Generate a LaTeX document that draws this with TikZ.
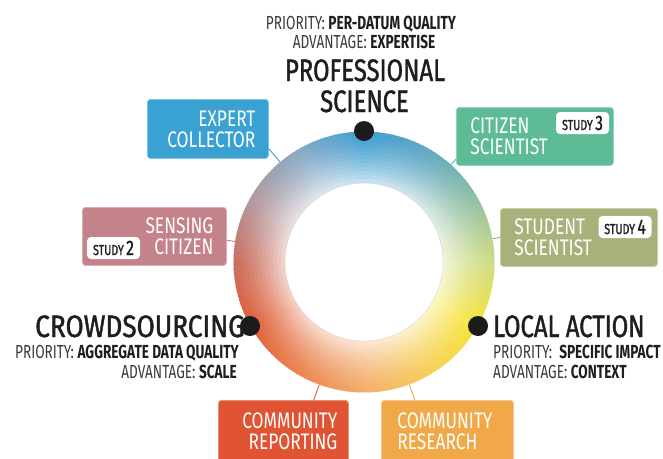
\documentclass[tikz,border=0pt]{standalone}
\usepackage{fontspec}
\setmainfont{Fira Sans}
\newfontfamily\narrowsans[FakeStretch=0.72]{Fira Sans}
\newfontfamily\labelsans[FakeStretch=0.77]{Fira Sans}
\newfontfamily\headsans[FakeStretch=0.77, FakeBold=1.3]{Fira Sans}
\newfontfamily\badgesans[FakeStretch=0.74, FakeBold=1.2]{Fira Sans}

% box fills
\definecolor{expertC}{HTML}{3AA2D2}
\definecolor{citizenC}{HTML}{5DBB96}
\definecolor{sensingC}{HTML}{C4838A}
\definecolor{studentC}{HTML}{A9B07A}
\definecolor{reportC}{HTML}{E05433}
\definecolor{researchC}{HTML}{F0A848}
\definecolor{dotC}{HTML}{1C1C1C}
\definecolor{inkC}{HTML}{1E1E1E}
\definecolor{softC}{HTML}{3A3A3A}

% hue stops around the ring, every 30 degrees (clockwise from the right)
\definecolor{ring0}{HTML}{CFDC86}
\definecolor{ring1}{HTML}{F6E43A}
\definecolor{ring2}{HTML}{F7CF58}
\definecolor{ring3}{HTML}{F2AE6C}
\definecolor{ring4}{HTML}{EA8652}
\definecolor{ring5}{HTML}{E0603A}
\definecolor{ring6}{HTML}{CB6E5C}
\definecolor{ring7}{HTML}{B29AA0}
\definecolor{ring8}{HTML}{88AAC6}
\definecolor{ring9}{HTML}{3E9ED2}
\definecolor{ring10}{HTML}{60A8C4}
\definecolor{ring11}{HTML}{8EBFA4}
\definecolor{ring12}{HTML}{CFDC86}

\begin{document}
\begin{tikzpicture}[x=1pt,y=-1pt,
  every node/.style={font=\narrowsans},
  labelbox/.style={rounded corners=3pt, draw=#1!65!white, fill=#1, line width=0.8pt,
    inner ysep=0pt, text=white, font=\labelsans\fontsize{22.5}{21}\selectfont},
  badge/.style={rounded corners=4pt, fill=white, inner sep=0pt, text=inkC,
    minimum width=53pt, minimum height=22pt, font=\badgesans\fontsize{14.5}{14}\selectfont},
  hub/.style={circle, fill=dotC, minimum size=20pt, inner sep=0pt},
  headline/.style={text=inkC, inner sep=0pt, text depth=0pt, font=\headsans\fontsize{31}{30}\selectfont},
  prio/.style={text=softC, inner sep=0pt, text height=13pt, font=\narrowsans\fontsize{18.9}{19}\selectfont},
  conn/.style={line width=0.9pt, draw=#1},
]
\useasboundingbox (0,0) rectangle (663,458);
\clip (0,0) rectangle (663,458);

% ---------- the colour ring ----------
\node[circle, minimum size=261pt, inner sep=0pt] (ring) at (364,262) {};
\begin{scope}[shift={(ring.center)}]
  \foreach \a in {0,2,...,358}{
    \pgfmathtruncatemacro\ki{floor(\a/30)}
    \pgfmathtruncatemacro\kj{\ki+1}
    \pgfmathsetmacro\kp{(\a-30*\ki)*10/3}
    \colorlet{arccol}{ring\kj!\kp!ring\ki}
    \foreach \ri in {79,83,...,127}{
      \pgfmathsetmacro\ro{min(\ri+4.5,130.5)}
      \pgfmathsetmacro\w{100-72*((130.5-(\ri+2))/51.5)^1.4}
      \fill[arccol!\w!white]
        (\a-1.3:\ri) arc[start angle=\a-1.3, end angle=\a+1.3, radius=\ri]
        -- (\a+1.3:\ro) arc[start angle=\a+1.3, end angle=\a-1.3, radius=\ro] -- cycle;
    }
  }
  \draw[black!15, line width=0.4pt] (0,0) circle[radius=79];
\end{scope}

% ---------- role boxes ----------
\node[labelbox=expertC, anchor=north west, minimum width=121pt, minimum height=59pt,
  inner xsep=13pt, text width=95pt, align=right] (expert) at (147,99) {EXPERT\\COLLECTOR};
\node[labelbox=citizenC, anchor=north west, minimum width=157pt, minimum height=58pt,
  inner xsep=14pt, text width=129pt, align=left] (citizen) at (456,107) {CITIZEN\\SCIENTIST};
\node[labelbox=sensingC, anchor=north west, minimum width=144pt, minimum height=58pt,
  inner xsep=13pt, text width=118pt, align=right] (sensing) at (82,207) {SENSING\\CITIZEN};
\node[labelbox=studentC, anchor=north west, minimum width=157pt, minimum height=58pt,
  inner xsep=14pt, text width=129pt, align=left] (student) at (500,208) {STUDENT\\SCIENTIST};
\node[labelbox=reportC, anchor=north west, minimum width=130pt, minimum height=62pt,
  inner xsep=11pt, text width=108pt, align=right] (report) at (218,400) {COMMUNITY\\REPORTING};
\node[labelbox=researchC, anchor=north west, minimum width=132pt, minimum height=62pt,
  inner xsep=16pt, text width=100pt, align=left] (research) at (381,400) {COMMUNITY\\RESEARCH};

% study badges
\node[badge] (study3) at (582.5,123) {STUDY\,{\fontsize{21}{21}\selectfont 3}};
\node[badge] (study4) at (625,227) {STUDY\,{\fontsize{21}{21}\selectfont 4}};
\node[badge] (study2) at (113.5,248) {STUDY\,{\fontsize{21}{21}\selectfont 2}};

% connectors from boxes to the ring
\draw[conn=expertC] (expert.-18) -- (ring);
\draw[conn=citizenC] (citizen.196) -- (ring);
\draw[conn=sensingC] (sensing.-3) -- (ring);
\draw[conn=studentC] (student.west) -- (ring);
\draw[conn=reportC] (report.46) -- (ring);
\draw[conn=researchC] (research.136) -- (ring);

% ---------- poles of the ring ----------
\node[hub] (topdot) at (364,131) {};
\node[hub] (leftdot) at (250,326) {};
\node[hub] (rightdot) at (478,326) {};

\node[prio, anchor=base] (psprio) at (361,29) {PRIORITY: \textbf{\color{inkC}PER-DATUM QUALITY}};
\node[prio, anchor=base] (psadv) at (364,48) {ADVANTAGE: \textbf{\color{inkC}EXPERTISE}};
\node[headline, anchor=base] (pstitleA) at (365,81) {PROFESSIONAL};
\node[headline, anchor=base] (pstitleB) at (364.5,112) {SCIENCE};

\node[headline, anchor=base east] (crowd) at (245,337) {\scalebox{1.1}[1]{CROWDSOURCING}};
\node[prio, anchor=base east] (crowdprio) at (239,358) {PRIORITY: \textbf{\color{inkC}AGGREGATE DATA QUALITY}};
\node[prio, anchor=base east] (crowdadv) at (237,378) {ADVANTAGE: \textbf{\color{inkC}SCALE}};

\node[headline, anchor=base west] (local) at (493,337) {LOCAL ACTION};
\node[prio, anchor=base west] (localprio) at (493,358) {PRIORITY:\ \ \textbf{\color{inkC}SPECIFIC IMPACT}};
\node[prio, anchor=base west] (localadv) at (493,378) {ADVANTAGE: \textbf{\color{inkC}CONTEXT}};
\end{tikzpicture}
\end{document}
